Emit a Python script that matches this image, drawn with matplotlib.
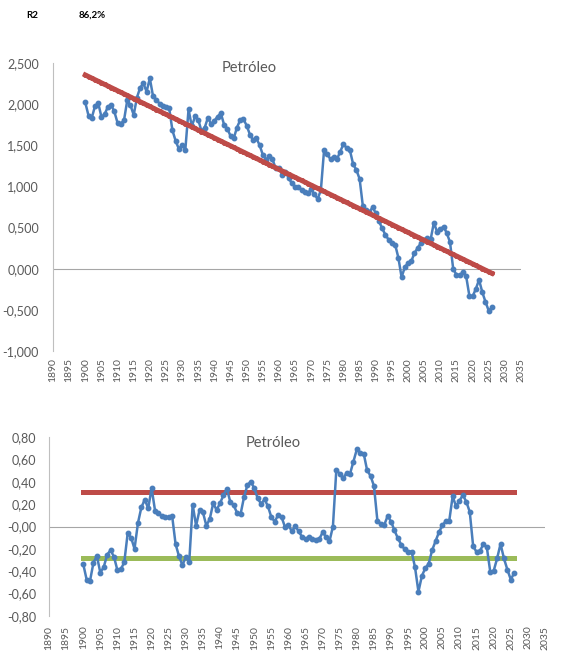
import matplotlib
matplotlib.use("Agg")
import matplotlib.pyplot as plt
import numpy as np

plt.rcParams['font.family'] = ['Lato', 'DejaVu Sans']

# años de la serie
anios = list(range(1900, 2027))

petroleo = [
    2.020, 1.861, 1.832, 1.974, 2.015, 1.846, 1.877, 1.968, 1.990, 1.911,
    1.772, 1.763, 1.804, 2.045, 1.987, 1.868, 2.079, 2.200, 2.251, 2.153,
    2.314, 2.095, 2.056, 2.007, 1.979, 1.960, 1.951, 1.682, 1.553, 1.455,
    1.506, 1.447, 1.938, 1.729, 1.850, 1.812, 1.673, 1.714, 1.835, 1.756,
    1.798, 1.849, 1.890, 1.751, 1.702, 1.614, 1.585, 1.716, 1.807, 1.818,
    1.740, 1.631, 1.562, 1.583, 1.504, 1.385, 1.327, 1.368, 1.329, 1.220,
    1.221, 1.143, 1.174, 1.105, 1.036, 0.997, 0.999, 0.960, 0.931, 0.922,
    0.963, 0.904, 0.846, 0.957, 1.448, 1.389, 1.330, 1.362, 1.333, 1.424,
    1.515, 1.466, 1.438, 1.269, 1.200, 1.091, 0.762, 0.714, 0.685, 0.746,
    0.677, 0.578, 0.489, 0.411, 0.352, 0.313, 0.294, 0.135, -0.103, 0.018,
    0.069, 0.090, 0.191, 0.253, 0.314, 0.355, 0.376, 0.357, 0.558, 0.450,
    0.481, 0.512, 0.433, 0.324, -0.004, -0.073, -0.082, -0.041, -0.090, -0.328,
    -0.337, -0.246, -0.135, -0.284, -0.403, -0.511, -0.470,
]

# bandas del gráfico inferior
banda_sup = 0.31
banda_inf = -0.285

# texto del R2
r2_texto = "86,2%"

x = np.array(anios)
y = np.array(petroleo)

# recta de tendencia (regresión lineal) y residuo
coef = np.polyfit(x, y, 1)
tendencia = np.polyval(coef, x)
residuo = y - tendencia

azul = '#4A7EBB'
rojo = '#BE4B48'
verde = '#9BBB59'
gris_txt = '#595959'
gris_eje = '#BFBFBF'

fig = plt.figure(figsize=(5.61, 6.65), dpi=100)

fig.text(26/561, 1-15/665, "R2", fontsize=7, fontweight='bold', va='center', ha='left')
fig.text(79/561, 1-15/665, r2_texto, fontsize=7, fontweight='bold', va='center', ha='left')


def estilo(ax, ylim, yticks, ndec, ypad, xpad):
    ax.set_xlim(1890, 2035)
    ax.set_ylim(*ylim)
    ax.set_yticks(yticks)
    ax.set_yticklabels([f"{v:.{ndec}f}".replace('.', ',') for v in yticks],
                       fontsize=9, color=gris_txt)
    ax.set_xticks(range(1890, 2036, 5))
    ax.set_xticklabels([str(a) for a in range(1890, 2036, 5)],
                       rotation=90, fontsize=7.5, color=gris_txt)
    ax.tick_params(axis='y', length=0, pad=ypad)
    ax.tick_params(axis='x', length=0, pad=xpad)
    for s in ['top', 'right', 'bottom']:
        ax.spines[s].set_visible(False)
    ax.spines['left'].set_color(gris_eje)
    ax.spines['left'].set_linewidth(0.8)
    ax.axhline(0, color='#A6A6A6', lw=0.8, zorder=1)


# gráfico superior
ax1 = fig.add_axes([53/561, 1-351/665, 468/561, 288/665])
estilo(ax1, (-1, 2.5), np.arange(-1, 2.51, 0.5), 3, 10, 5)
ax1.plot(x, y, color=azul, lw=1.8, marker='o', ms=3.2, zorder=3)
ax1.plot(x, tendencia, color=rojo, lw=3.6, marker='o', ms=2.6, zorder=4)
ax1.text(0.42, 0.982, "Petróleo", transform=ax1.transAxes, fontsize=10.5,
         color=gris_txt, ha='center', va='center')

# gráfico inferior
ax2 = fig.add_axes([49/561, 1-616/665, 496/561, 179/665])
estilo(ax2, (-0.8, 0.8), np.arange(-0.8, 0.81, 0.2), 2, 9, 7)
ax2.plot(x, [banda_sup]*len(x), color=rojo, lw=3.6, marker='o', ms=2.6, zorder=2)
ax2.plot(x, [banda_inf]*len(x), color=verde, lw=3.6, marker='o', ms=2.6, zorder=2)
ax2.plot(x, residuo, color=azul, lw=1.8, marker='o', ms=3.2, zorder=3)
ax2.text(0.452, 0.966, "Petróleo", transform=ax2.transAxes, fontsize=10.5,
         color=gris_txt, ha='center', va='center')

fig.savefig("out.png", dpi=100)
